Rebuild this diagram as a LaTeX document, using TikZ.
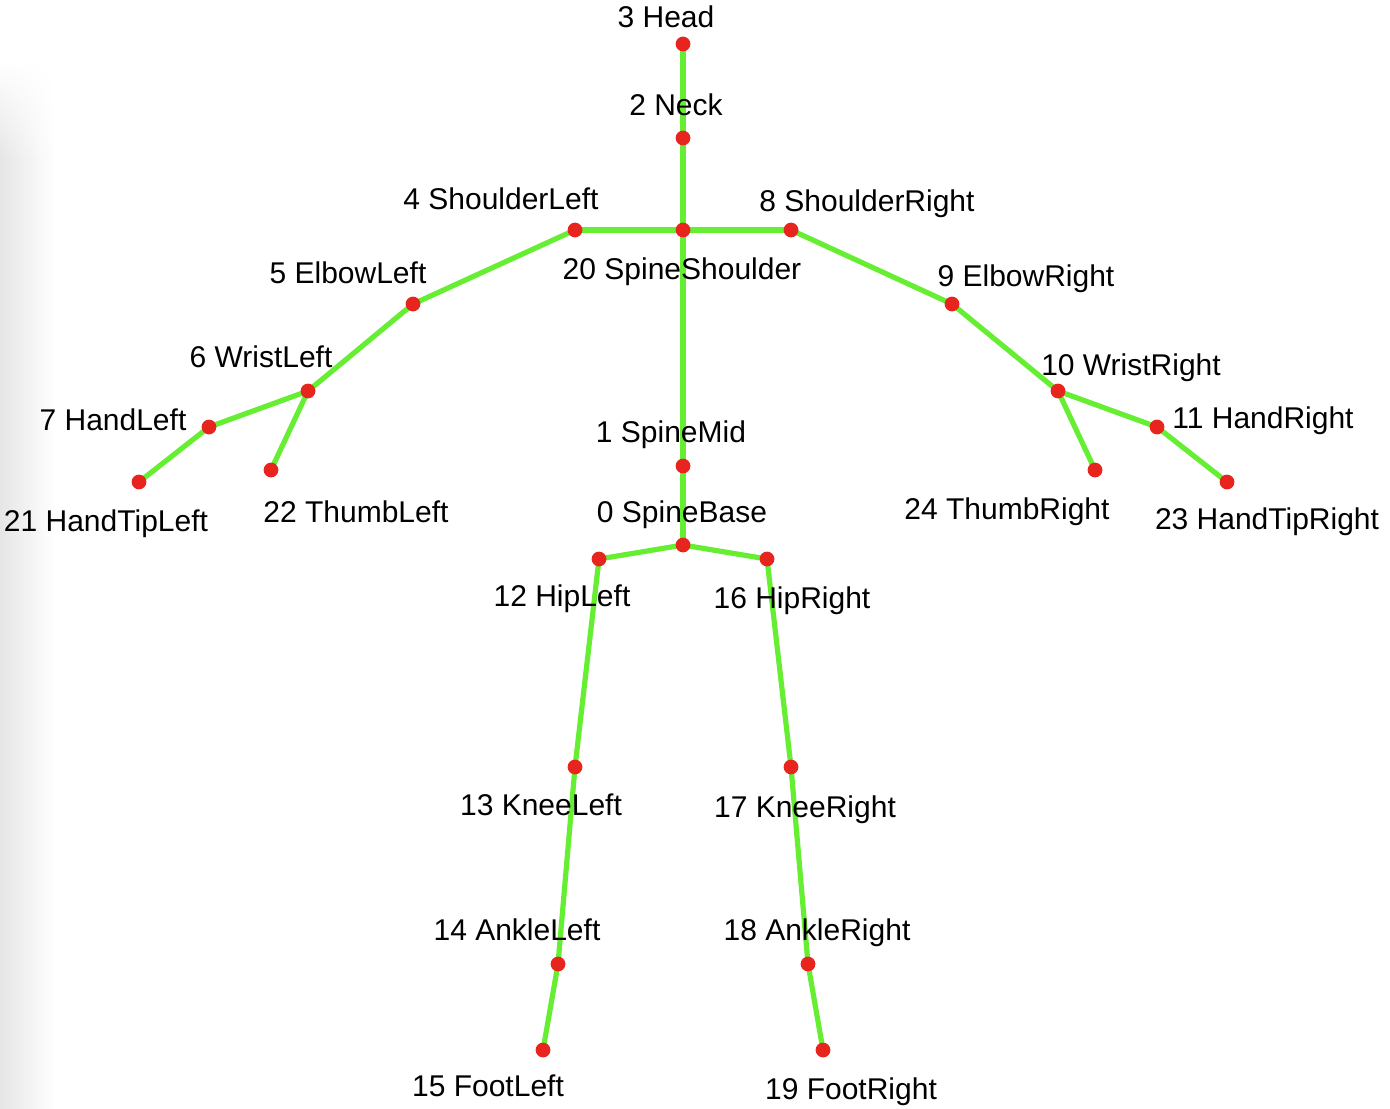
\documentclass[tikz,border=0pt]{standalone}
\usepackage{fontspec}
\setmainfont{Liberation Sans}
\usepackage{xcolor}
\usepackage{tikz}
\usetikzlibrary{fadings}

\definecolor{bonegreen}{RGB}{102,238,51}
\definecolor{jointred}{RGB}{232,36,30}

\begin{document}
\begin{tikzpicture}[x=0.5pt, y=-0.5pt,
    joint/.style={circle, fill=jointred, inner sep=0pt, minimum size=7.4pt},
    bone/.style={draw=bonegreen, line width=2.6pt},
    lbl/.style={inner sep=0pt, anchor=base, font=\fontsize{15}{17}\selectfont}]

    \useasboundingbox (0,0) rectangle (1390,1108);
    % soft shadow at the left edge
    \shade[left color=black!10, right color=white] (0,160) rectangle (55,1108);
    \shade[left color=black!10, right color=white, path fading=north] (0,60) rectangle (55,160);

    % joints
    \coordinate (J3) at (683,44);
    \coordinate (J2) at (683,138);
    \coordinate (J20) at (683,230);
    \coordinate (J4) at (575,230);
    \coordinate (J8) at (791,230);
    \coordinate (J5) at (413,304);
    \coordinate (J6) at (308,391);
    \coordinate (J7) at (209,427);
    \coordinate (J21) at (139,482);
    \coordinate (J22) at (271,470);
    \coordinate (J9) at (952,304);
    \coordinate (J10) at (1058,391);
    \coordinate (J11) at (1157,427);
    \coordinate (J23) at (1227,482);
    \coordinate (J24) at (1095,470);
    \coordinate (J1) at (683,466);
    \coordinate (J0) at (683,545);
    \coordinate (J12) at (599,559);
    \coordinate (J16) at (767,559);
    \coordinate (J13) at (575,767);
    \coordinate (J17) at (791,767);
    \coordinate (J14) at (558,964);
    \coordinate (J18) at (808,964);
    \coordinate (J15) at (543,1050);
    \coordinate (J19) at (823,1050);

    % bones
    \foreach \a/\b in {3/2, 2/20, 20/4, 20/8, 4/5, 5/6, 6/7, 7/21, 6/22,
        8/9, 9/10, 10/11, 11/23, 10/24, 20/1, 1/0, 0/12, 0/16,
        12/13, 13/14, 14/15, 16/17, 17/18, 18/19}
        \draw[bone] (J\a) -- (J\b);

    % labels
    \node[lbl] (L3) at (666,27) {3 Head};
    \node[lbl] (L2) at (676,115) {2 Neck};
    \node[lbl] (L4) at (501,209) {4 ShoulderLeft};
    \node[lbl] (L8) at (867,211) {8 ShoulderRight};
    \node[lbl] (L20) at (682,279) {20 SpineShoulder};
    \node[lbl] (L5) at (348,283) {5 ElbowLeft};
    \node[lbl] (L9) at (1026,286) {9 ElbowRight};
    \node[lbl] (L6) at (261,367) {6 WristLeft};
    \node[lbl] (L10) at (1131,375) {10 WristRight};
    \node[lbl] (L7) at (113,430) {7 HandLeft};
    \node[lbl] (L11) at (1263,428) {11 HandRight};
    \node[lbl] (L1) at (671,442) {1 SpineMid};
    \node[lbl] (L21) at (106,531) {21 HandTipLeft};
    \node[lbl] (L22) at (356,522) {22 ThumbLeft};
    \node[lbl] (L0) at (682,522) {0 SpineBase};
    \node[lbl] (L24) at (1007,519) {24 ThumbRight};
    \node[lbl] (L23) at (1267,529) {23 HandTipRight};
    \node[lbl] (L12) at (562,606) {12 HipLeft};
    \node[lbl] (L16) at (792,608) {16 HipRight};
    \node[lbl] (L13) at (541,815) {13 KneeLeft};
    \node[lbl] (L17) at (805,817) {17 KneeRight};
    \node[lbl] (L14) at (517,940) {14 AnkleLeft};
    \node[lbl] (L18) at (817,940) {18 AnkleRight};
    \node[lbl] (L15) at (488,1096) {15 FootLeft};
    \node[lbl] (L19) at (851,1099) {19 FootRight};

    % joint dots
    \foreach \j in {0,...,24}
        \node[joint] (D\j) at (J\j) {};
\end{tikzpicture}
\end{document}
